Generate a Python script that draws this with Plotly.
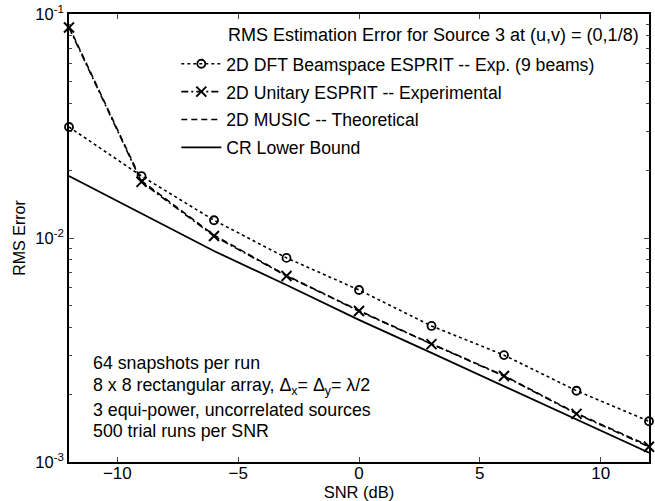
import plotly.graph_objects as go

snr = [-12, -9, -6, -3, 0, 3, 6, 9, 12]
dft_esprit = [0.0313, 0.0189, 0.0120, 0.00815, 0.00586, 0.00405, 0.00300, 0.00208, 0.00152]
unitary_esprit = [0.087, 0.0178, 0.0102, 0.00677, 0.00472, 0.00336, 0.00242, 0.00164, 0.00117]
music_theory = [0.088, 0.0180, 0.0103, 0.00680, 0.00474, 0.00337, 0.00243, 0.00165, 0.00118]
crb = [0.0189, 0.0129, 0.00875, 0.00617, 0.00431, 0.00307, 0.00218, 0.00154, 0.00110]

x_ticks = [-10, -5, 0, 5, 10]
y_ticks = [1e-3, 1e-2, 1e-1]
y_tick_text = ["10<sup>-3</sup>", "10<sup>-2</sup>", "10<sup>-1</sup>"]
y_minor = [m * d for d in (1e-3, 1e-2) for m in range(2, 10)]

legend_title = "RMS Estimation Error for Source 3 at (u,v) = (0,1/8)"
notes = [
    "64 snapshots per run",
    "8 x 8 rectangular array, Δ<sub>x</sub>= Δ<sub>y</sub>= λ/2",
    "3 equi-power, uncorrelated sources",
    "500 trial runs per SNR",
]

FONT = "Liberation Sans, Arial, sans-serif"
fig = go.Figure()

fig.add_trace(go.Scatter(
    x=snr, y=dft_esprit, mode="lines+markers",
    name="2D DFT Beamspace ESPRIT -- Exp. (9 beams)",
    line=dict(color="black", width=1.6, dash="3px,3px"),
    marker=dict(symbol="circle-open", size=8, color="black", line=dict(width=1.8)),
    legendgroup="a", legendrank=1, cliponaxis=False,
))
fig.add_trace(go.Scatter(
    x=snr, y=music_theory, mode="lines",
    name="2D MUSIC -- Theoretical",
    line=dict(color="black", width=1.6, dash="6px,4px"),
    legendgroup="c", legendrank=3, cliponaxis=False,
))
fig.add_trace(go.Scatter(
    x=snr, y=unitary_esprit, mode="lines+markers",
    name="2D Unitary ESPRIT -- Experimental",
    line=dict(color="black", width=1.6, dash="7px,3px,2px,3px"),
    marker=dict(symbol="x-thin-open", size=10, color="black", line=dict(width=2, color="black")),
    legendgroup="b", legendrank=2, cliponaxis=False,
))
fig.add_trace(go.Scatter(
    x=snr, y=crb, mode="lines",
    name="CR Lower Bound",
    line=dict(color="black", width=1.8),
    legendgroup="d", legendrank=4, cliponaxis=False,
))

# invisible trace on overlay axis for minor ticks
fig.add_trace(go.Scatter(x=[snr[0]], y=[crb[0]], yaxis="y2", mode="markers",
                         marker=dict(opacity=0), showlegend=False, hoverinfo="skip"))

fig.update_layout(
    width=655, height=501,
    margin=dict(l=69, r=6, t=14, b=39, autoexpand=False),
    paper_bgcolor="white", plot_bgcolor="white",
    font=dict(family=FONT, size=15, color="black"),
    showlegend=True,
    legend=dict(
        x=0.185, y=0.929, xanchor="left", yanchor="top",
        bgcolor="rgba(255,255,255,0)", borderwidth=0,
        font=dict(family=FONT, size=17.6, color="black"),
        traceorder="grouped", tracegroupgap=2,
        itemwidth=40,
    ),
    xaxis=dict(
        range=[-12, 12], tickvals=x_ticks, ticks="inside", ticklen=5,
        showline=True, linecolor="black", linewidth=1.5, mirror="ticks",
        showgrid=False, zeroline=False, automargin=False,
        tickfont=dict(size=17), ticklabelstandoff=-5,
        title=dict(text="SNR (dB)", font=dict(size=16.5), standoff=4),
    ),
    yaxis=dict(
        type="log", range=[-3, -1], tickvals=y_ticks, ticktext=y_tick_text,
        ticks="inside", ticklen=5, ticklabeloverflow="allow",
        showline=True, linecolor="black", linewidth=1.5, mirror="ticks",
        showgrid=False, zeroline=False, automargin=False,
        tickfont=dict(size=16.5),
        title=dict(text="RMS Error", font=dict(size=16), standoff=6),
    ),
    yaxis2=dict(
        type="log", range=[-3, -1], overlaying="y", side="left",
        tickvals=y_minor, showticklabels=False, ticks="inside", ticklen=3,
        showline=False, mirror="ticks", showgrid=False, zeroline=False,
        matches="y", automargin=False,
    ),
)

fig.add_annotation(
    text=legend_title, xref="paper", yref="paper", x=0.271, y=0.953,
    xanchor="left", yanchor="middle", showarrow=False,
    font=dict(family=FONT, size=18, color="black"),
)

note_y = [0.221, 0.168, 0.116, 0.069]
for t, yy in zip(notes, note_y):
    fig.add_annotation(
        text=t, xref="paper", yref="paper", x=0.038, y=yy,
        xanchor="left", yanchor="middle", showarrow=False,
        font=dict(family=FONT, size=17.8, color="black"),
    )

fig.write_html("out.html", config={"displayModeBar": False},
               post_script="document.body.style.margin='0px';")
